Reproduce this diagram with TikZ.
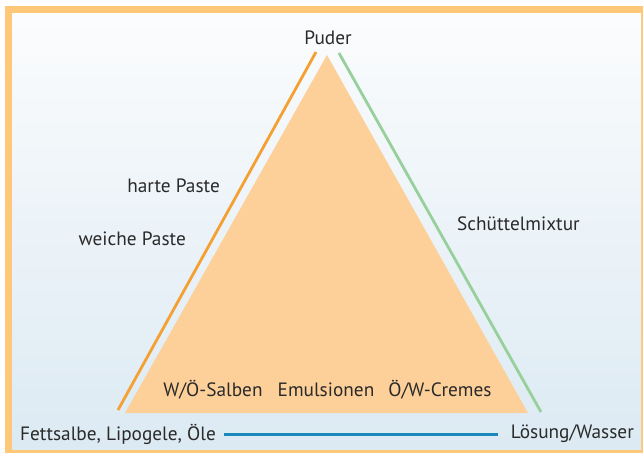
\documentclass[tikz,border=0pt]{standalone}
\usepackage{fontspec}
\setmainfont{PT Sans}
\definecolor{framec}{HTML}{FFC878}
\definecolor{trifill}{HTML}{FDD09A}
\definecolor{orangeline}{HTML}{F4A032}
\definecolor{greenline}{HTML}{98D09C}
\definecolor{blueline}{HTML}{1A88BC}
\definecolor{bgtop}{HTML}{FBFCFD}
\definecolor{bgbot}{HTML}{DCEAF3}
\definecolor{txt}{HTML}{2A2A2A}
\tikzset{
  lbl/.style={font=\fontsize{19.3}{22}\selectfont, text=txt, inner sep=0pt},
  sideline/.style={line width=2.8pt},
}
\begin{document}
\begin{tikzpicture}[x=1pt,y=-1pt]
\useasboundingbox (0,0) rectangle (643,456);
\fill[white] (0,0) rectangle (643,456);
\fill[framec] (5,6) rectangle (643,453);
\shade[top color=bgtop, bottom color=bgbot] (12,13) rectangle (641,449);
% triangle
\coordinate (apex) at (327,55);
\coordinate (bl) at (125,413);
\coordinate (br) at (528,413);
\fill[trifill] (apex) -- (br) -- (bl) -- cycle;
% side lines
\coordinate (ol1) at (118,410);
\coordinate (ol2) at (316,52);
\coordinate (gl1) at (339,53);
\coordinate (gl2) at (541,412);
\draw[orangeline, sideline] (ol1) -- (ol2);
\draw[greenline, sideline] (gl1) -- (gl2);
% labels
\node[lbl] (puder) at (328,38) {Puder};
\node[lbl, anchor=east] (hp) at (220,186) {harte Paste};
\node[lbl, anchor=east] (wp) at (186,239) {weiche Paste};
\node[lbl, anchor=west] (sm) at (457,224) {Schüttelmixtur};
\node[lbl] (wo) at (213,390) {W/Ö-Salben};
\node[lbl] (em) at (326,390) {Emulsionen};
\node[lbl] (ow) at (440,390) {Ö/W-Cremes};
\node[lbl, anchor=west] (fs) at (20,434) {Fettsalbe, Lipogele, Öle};
\node[lbl, anchor=east] (lw) at (634,434) {Lösung/Wasser};
\draw[blueline, line width=3pt] ([xshift=8pt]fs.east) -- ([xshift=-13pt]lw.west);
\end{tikzpicture}
\end{document}
